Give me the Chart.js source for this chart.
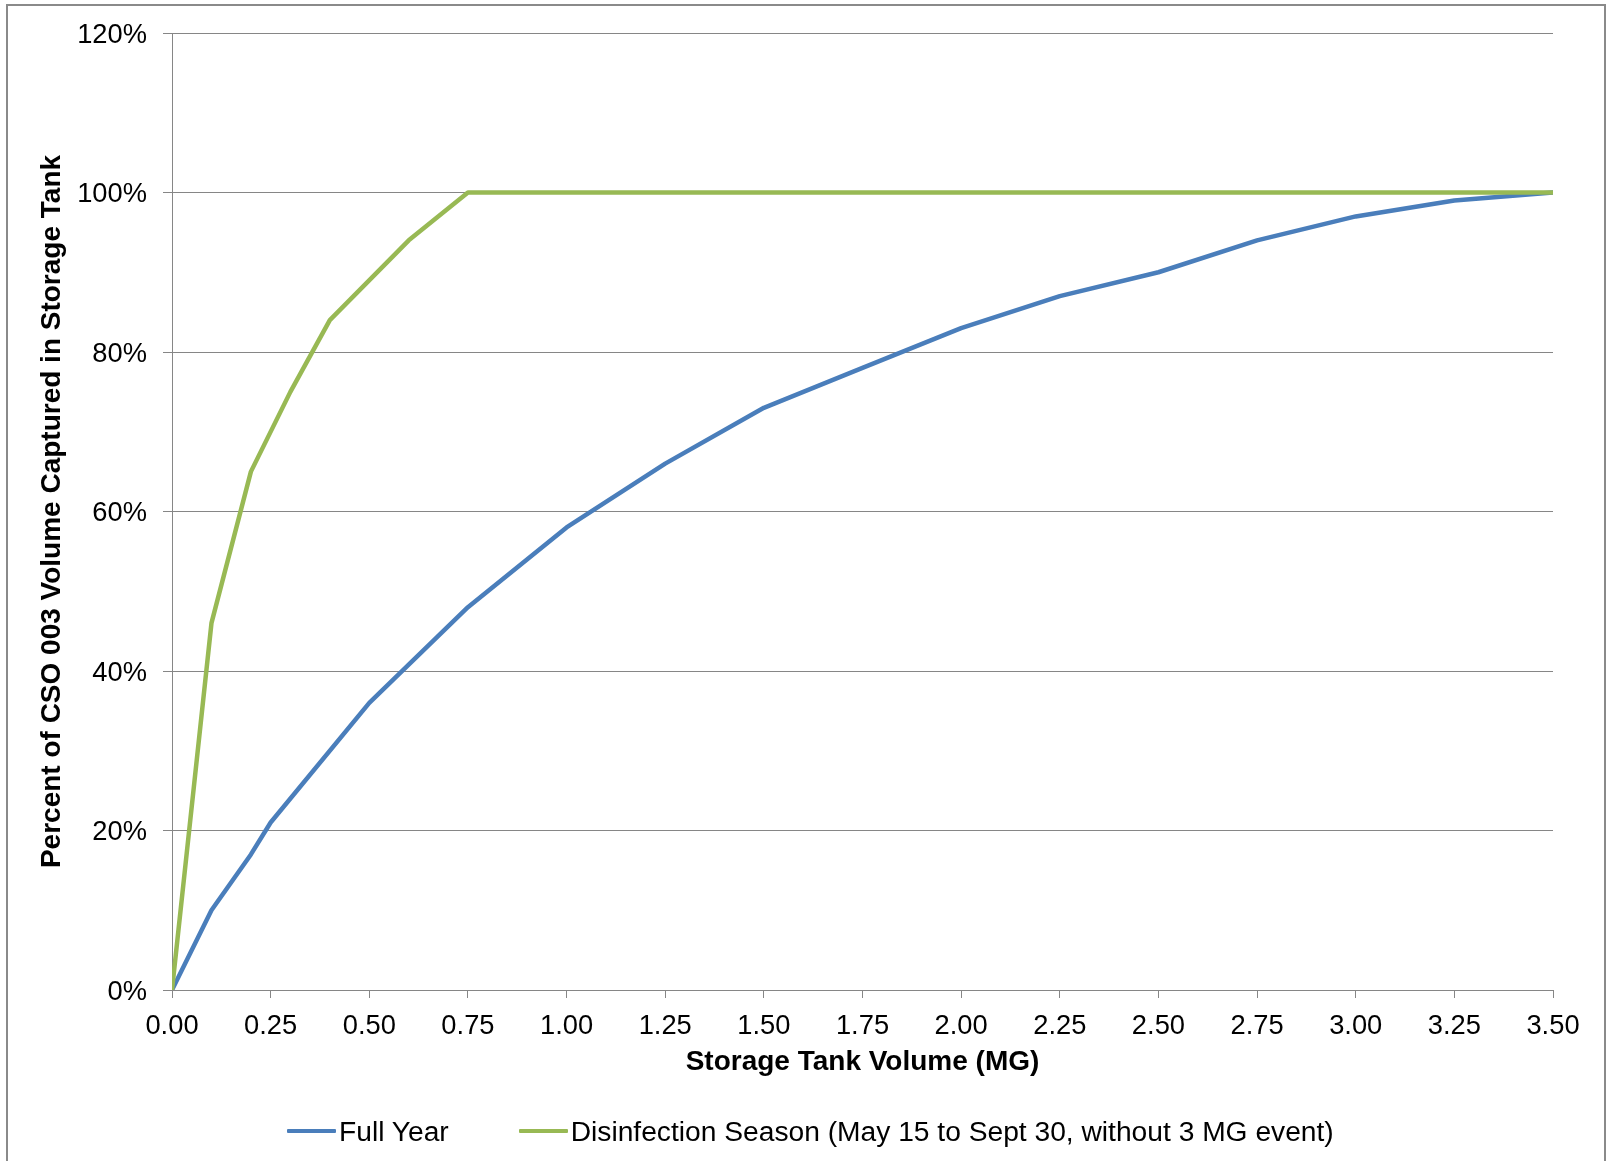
<!DOCTYPE html>
<html>
<head>
<meta charset="utf-8">
<title>Storage Tank Capture Curve</title>
<script src="https://cdn.jsdelivr.net/npm/chart.js@4/dist/chart.umd.min.js"></script>
<style>
  html, body { margin: 0; padding: 0; background: #ffffff; }
  #wrap { position: relative; width: 1606px; height: 1161px; overflow: hidden; background: #ffffff; }
  #chart { position: absolute; left: 0; top: 0; }
  #frame {
    position: absolute; left: 6px; top: 4px; width: 1600px; height: 1300px;
    box-sizing: border-box; border: 2px solid #8a8a8a; pointer-events: none;
  }
  #legend {
    position: absolute; left: 287px; top: 1113px; height: 36px;
    display: flex; align-items: center; gap: 70px;
    font-family: 'Liberation Sans', Arial, sans-serif; font-size: 28.2px; color: #000;
  }
  .item { display: flex; align-items: center; white-space: nowrap; }
  .swatch { width: 49px; height: 4.5px; margin-right: 3px; border-radius: 1px; }
</style>
</head>
<body>
<div id="wrap">
  <canvas id="chart" width="1606" height="1161"></canvas>
  <div id="legend"></div>
  <div id="frame"></div>
</div>
<script>
// Storage tank volume (MG) and percent of CSO 003 volume captured
const fullYearVolume = [0, 0.1, 0.2, 0.25, 0.5, 0.75, 1.0, 1.25, 1.5, 1.75, 2.0, 2.25, 2.5, 2.75, 3.0, 3.25, 3.5];
const fullYearCaptured = [0, 10, 17, 21, 36, 48, 58, 66, 73, 78, 83, 87, 90, 94, 97, 99, 100];

const seasonVolume = [0, 0.1, 0.2, 0.3, 0.4, 0.6, 0.75, 1.0, 1.25, 1.5, 1.75, 2.0, 2.25, 2.5, 2.75, 3.0, 3.25, 3.5];
const seasonCaptured = [0, 46, 65, 75, 84, 94, 100, 100, 100, 100, 100, 100, 100, 100, 100, 100, 100, 100];

const seriesNames = ['Full Year', 'Disinfection Season (May 15 to Sept 30, without 3 MG event)'];
const seriesColors = ['#4a7ebb', '#98b954'];

const xTitle = 'Storage Tank Volume (MG)';
const yTitle = 'Percent of CSO 003 Volume Captured in Storage Tank';

const xMin = 0, xMax = 3.5, xStep = 0.25;
const yMin = 0, yMax = 120, yStep = 20;

const toPoints = (xs, ys) => xs.map((x, i) => ({ x: x, y: ys[i] }));

const FONT = "'Liberation Sans', Arial, sans-serif";
const GRID = '#868686';

const chart = new Chart(document.getElementById('chart'), {
  type: 'line',
  data: {
    datasets: [
      {
        label: seriesNames[0],
        data: toPoints(fullYearVolume, fullYearCaptured),
        borderColor: seriesColors[0],
        backgroundColor: seriesColors[0],
        borderWidth: 4.5,
        pointRadius: 0,
        tension: 0,
        borderJoinStyle: 'round',
        borderCapStyle: 'round',
        order: 1
      },
      {
        label: seriesNames[1],
        data: toPoints(seasonVolume, seasonCaptured),
        borderColor: seriesColors[1],
        backgroundColor: seriesColors[1],
        borderWidth: 4.5,
        pointRadius: 0,
        tension: 0,
        borderJoinStyle: 'round',
        borderCapStyle: 'round',
        order: 0
      }
    ]
  },
  options: {
    responsive: false,
    animation: false,
    layout: { padding: { left: 0, top: 33, right: 53, bottom: 82 } },
    plugins: {
      legend: { display: false },
      tooltip: { enabled: false }
    },
    scales: {
      x: {
        type: 'linear',
        min: xMin,
        max: xMax,
        afterFit: (s) => { s.height = 89; },
        grid: {
          drawOnChartArea: false,
          drawTicks: true,
          tickLength: 8,
          color: GRID,
          lineWidth: 1
        },
        border: { display: true, color: GRID, width: 1 },
        ticks: {
          stepSize: xStep,
          autoSkip: false,
          maxRotation: 0,
          padding: 12,
          color: '#000',
          font: { family: FONT, size: 27.3 },
          callback: (v) => Number(v).toFixed(2)
        },
        title: {
          display: true,
          text: xTitle,
          color: '#000',
          font: { family: FONT, size: 28, weight: 'bold' },
          padding: { top: 0, bottom: 0 }
        }
      },
      y: {
        type: 'linear',
        min: yMin,
        max: yMax,
        afterFit: (s) => { s.width = 172; },
        grid: {
          drawOnChartArea: true,
          drawTicks: true,
          tickLength: 9,
          color: GRID,
          lineWidth: 1
        },
        border: { display: true, color: GRID, width: 1 },
        ticks: {
          stepSize: yStep,
          padding: 16,
          labelOffset: 2,
          color: '#000',
          font: { family: FONT, size: 27.3 },
          callback: (v) => v + '%'
        },
        title: {
          display: true,
          text: yTitle,
          color: '#000',
          font: { family: FONT, size: 28, weight: 'bold' },
          padding: { top: 35, bottom: 0 }
        }
      }
    }
  }
});

// Legend built from the chart's own datasets
const legendEl = document.getElementById('legend');
chart.data.datasets.forEach((ds) => {
  const item = document.createElement('div');
  item.className = 'item';
  const sw = document.createElement('span');
  sw.className = 'swatch';
  sw.style.background = ds.borderColor;
  const txt = document.createElement('span');
  txt.textContent = ds.label;
  item.appendChild(sw);
  item.appendChild(txt);
  legendEl.appendChild(item);
});
</script>
</body>
</html>
